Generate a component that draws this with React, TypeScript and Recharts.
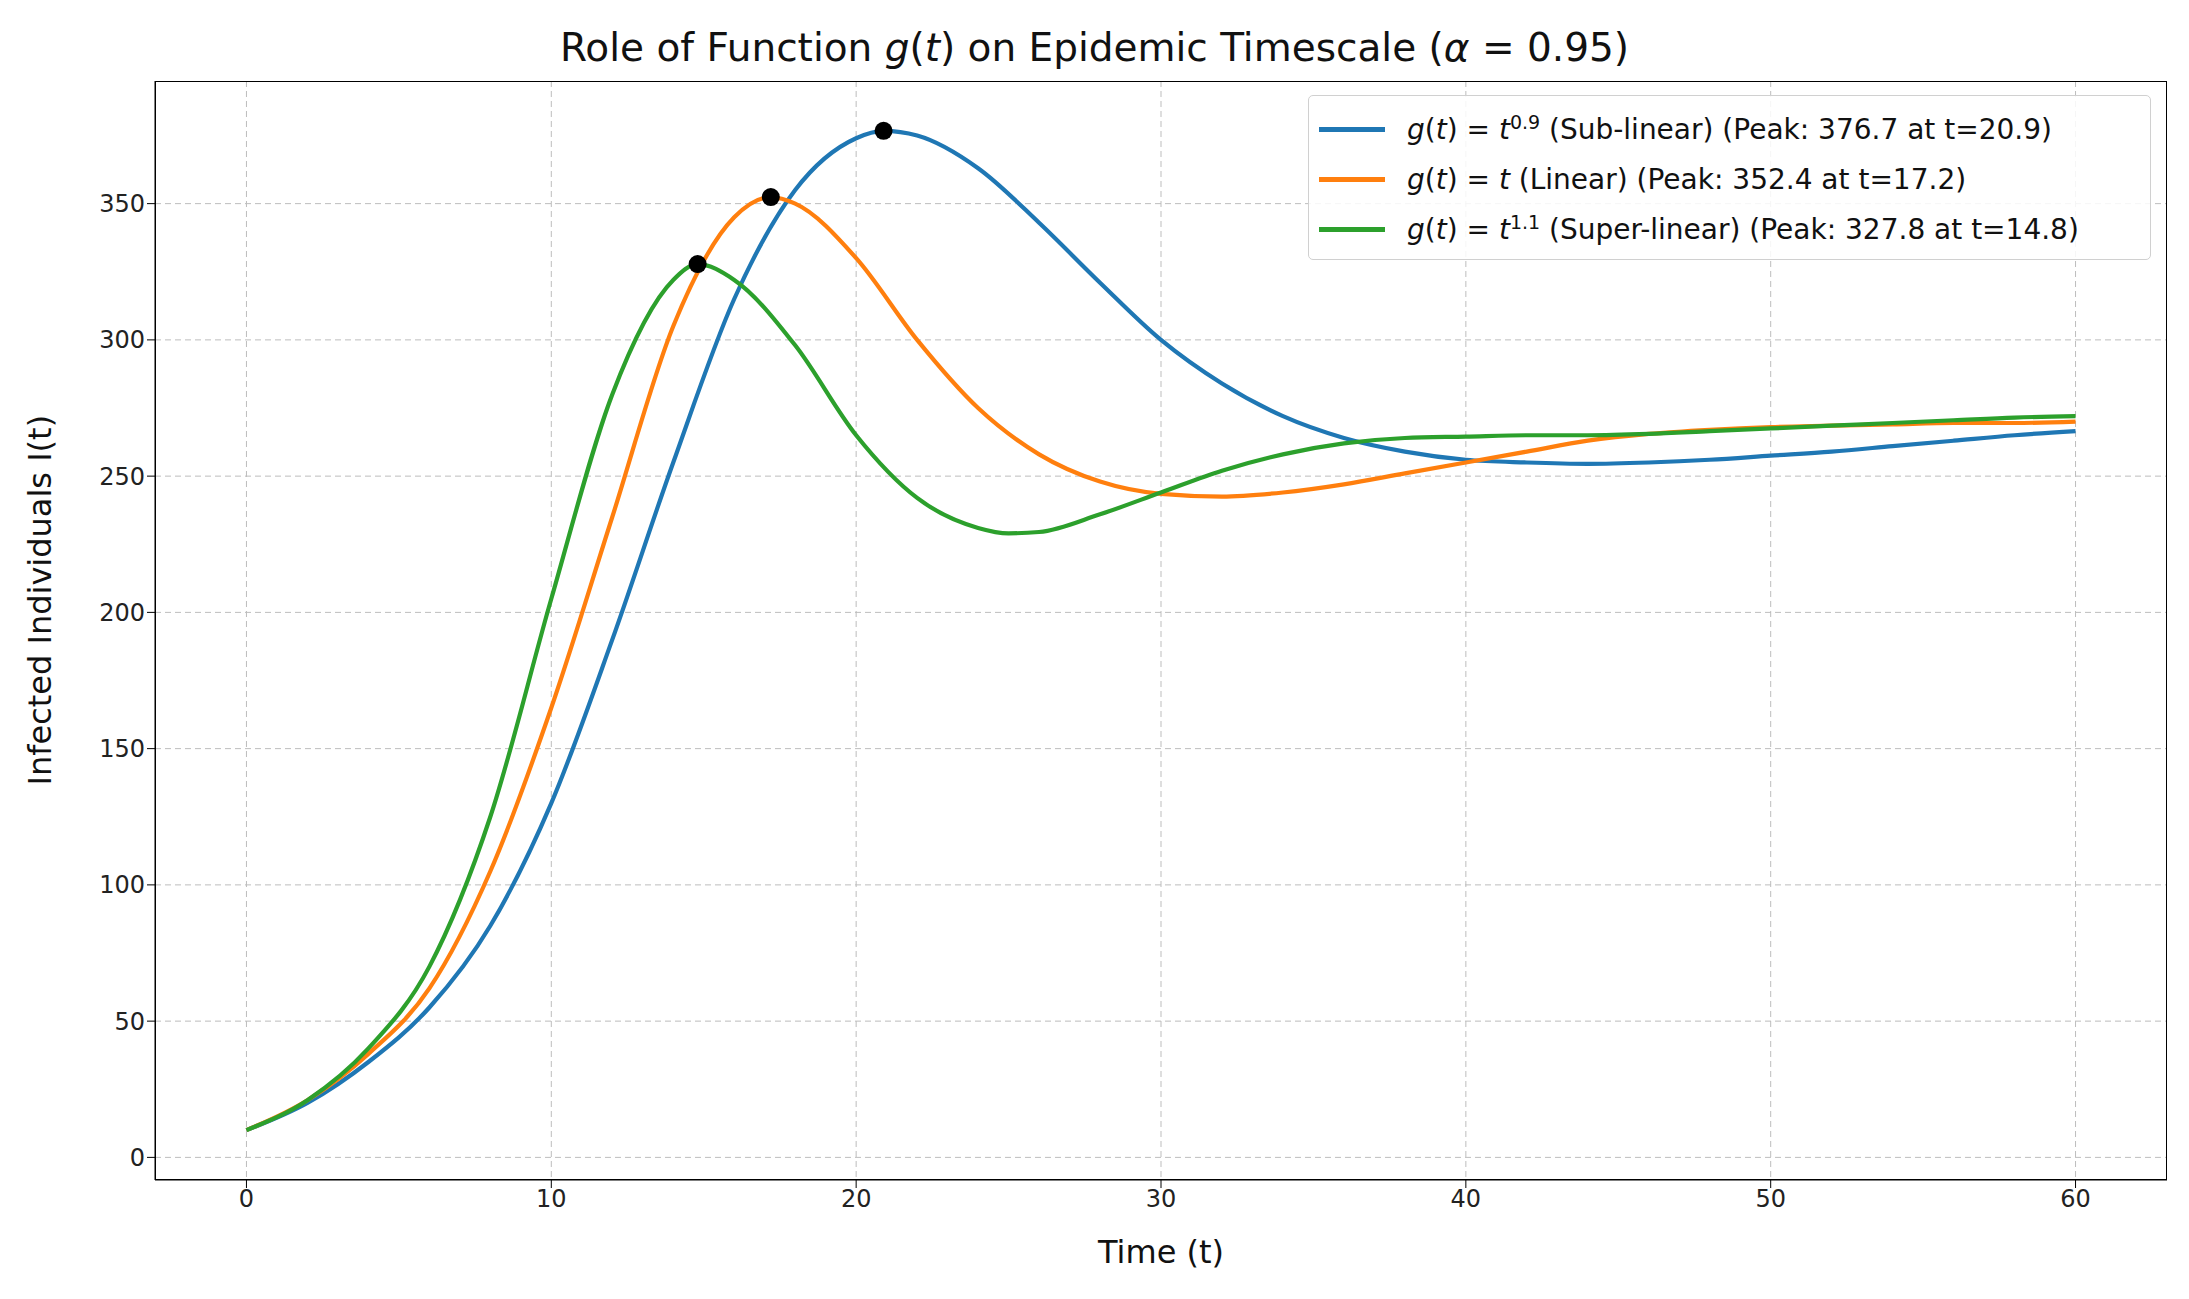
import { LineChart, Line, XAxis, YAxis, CartesianGrid, ReferenceDot } from "recharts";

const subLinear = [
  [0, 10], [2, 20], [4, 35], [6, 55], [8, 85], [10, 130], [12, 190], [14, 255], [16, 315], [18, 355],
  [20, 374], [20.9, 376.7], [22, 375], [24, 363], [26, 343], [28, 321], [30, 300], [32, 284], [34, 272],
  [36, 264], [38, 259], [40, 256], [42, 255], [44, 254.5], [46, 255], [48, 256], [50, 257.5], [52, 259],
  [54, 261], [56, 263], [58, 265], [60, 266.5],
].map(([t, v]) => ({ t, v }));

const linear = [
  [0, 10], [2, 21], [4, 38], [6, 62], [8, 105], [10, 165], [12, 235], [14, 305], [16, 345], [17.2, 352.4],
  [18, 350], [20, 330], [22, 300], [24, 275], [26, 258], [28, 248], [30, 243.5], [32, 242.5], [34, 244],
  [36, 247], [38, 251], [40, 255], [42, 259], [44, 263], [46, 265.5], [48, 267], [50, 268], [52, 268.5],
  [54, 269], [56, 269.5], [58, 269.5], [60, 270],
].map(([t, v]) => ({ t, v }));

const superLinear = [
  [0, 10], [2, 21], [4, 40], [6, 70], [8, 125], [10, 205], [12, 280], [14, 322], [14.8, 327.8], [16, 322],
  [18, 298], [20, 265], [22, 242], [24, 231], [25, 229], [26, 229.5], [28, 236], [30, 244], [32, 252],
  [34, 258], [36, 262], [38, 264], [40, 264.5], [42, 265], [44, 265], [46, 265.5], [48, 266.5], [50, 267.5],
  [52, 268.5], [54, 269.5], [56, 270.5], [58, 271.5], [60, 272],
].map(([t, v]) => ({ t, v }));

const peaks = [
  { t: 20.9, v: 376.7 },
  { t: 17.2, v: 352.4 },
  { t: 14.8, v: 327.8 },
];

const xTicks = [0, 10, 20, 30, 40, 50, 60];
const yTicks = [0, 50, 100, 150, 200, 250, 300, 350];

const series = [
  { data: subLinear, color: "#1f77b4", exp: "0.9", name: "Sub-linear", peak: "376.7 at t=20.9" },
  { data: linear, color: "#ff7f0e", exp: "", name: "Linear", peak: "352.4 at t=17.2" },
  { data: superLinear, color: "#2ca02c", exp: "1.1", name: "Super-linear", peak: "327.8 at t=14.8" },
];

const font = "'DejaVu Sans', sans-serif";
const L = 155, R = 2167, T = 81, B = 1180;

export default function App() {
  return (
    <div style={{ position: "absolute", left: 0, top: 0, width: 2189, height: 1299, background: "#fff", fontFamily: font }}>
      <div style={{ position: "absolute", top: 25, width: 2189, textAlign: "center", fontSize: 39, color: "#111" }}>
        Role of Function <i>g</i>(<i>t</i>) on Epidemic Timescale (<i>α</i> = 0.95)
      </div>
      <LineChart width={2189} height={1299} margin={{ top: T, right: 2189 - R, left: 0, bottom: 0 }}>
        <CartesianGrid stroke="#bdbdbd" strokeDasharray="6 4" horizontalValues={yTicks} verticalValues={xTicks} />
        <XAxis type="number" dataKey="t" domain={[-3, 63]} ticks={xTicks} height={1299 - B}
          tick={{ fontSize: 24, fill: "#222", fontFamily: font }} tickSize={8} stroke="#000" allowDataOverflow
          label={{ value: "Time (t)", position: "insideTop", offset: 60, fontSize: 32, fill: "#111", fontFamily: font }} />
        <YAxis type="number" domain={[-8.3, 395]} ticks={yTicks} width={L}
          tick={{ fontSize: 24, fill: "#222", fontFamily: font }} tickSize={8} stroke="#000" allowDataOverflow
          label={{ value: "Infected Individuals I(t)", angle: -90, position: "insideLeft", offset: 40, dy: 155, fontSize: 32, fill: "#111", fontFamily: font }} />
        {series.map((s) => (
          <Line key={s.name} data={s.data} dataKey="v" type="monotone" stroke={s.color} strokeWidth={4.2}
            dot={false} isAnimationActive={false} />
        ))}
        {peaks.map((p) => (
          <ReferenceDot key={p.t} x={p.t} y={p.v} r={9} fill="#000" stroke="none" />
        ))}
      </LineChart>
      <div style={{ position: "absolute", left: L, top: T, width: R - L, height: B - T, border: "1.5px solid #000", boxSizing: "border-box", pointerEvents: "none" }} />
      <div style={{ position: "absolute", left: 1308, top: 95, width: 843, height: 165, border: "1.5px solid #d0d0d0", borderRadius: 5, background: "rgba(255,255,255,0.85)", boxSizing: "border-box", padding: "8px 10px", fontSize: 28, color: "#111", whiteSpace: "nowrap" }}>
        {series.map((s) => (
          <div key={s.name} style={{ display: "flex", alignItems: "center", height: 50 }}>
            <span style={{ display: "inline-block", width: 66, height: 5, background: s.color, marginRight: 22 }} />
            <span><i>g</i>(<i>t</i>) = <i>t</i>{s.exp && <sup style={{ fontSize: 19 }}>{s.exp}</sup>} ({s.name}) (Peak: {s.peak})</span>
          </div>
        ))}
      </div>
    </div>
  );
}
